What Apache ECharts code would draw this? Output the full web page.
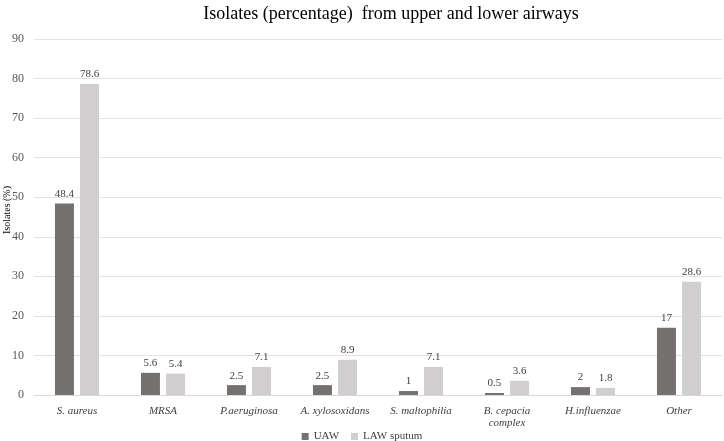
<!DOCTYPE html>
<html><head><meta charset="utf-8">
<script src="https://cdn.jsdelivr.net/npm/echarts@6/dist/echarts.min.js"></script>
<style>html,body{margin:0;padding:0;background:#fff}#c{width:724px;height:441px}</style>
</head><body><div id="c"></div>
<script>
var categories = ['S. aureus', 'MRSA', 'P.aeruginosa', 'A. xylosoxidans', 'S. maltophilia', 'B. cepacia\ncomplex', 'H.influenzae', 'Other'];
var uaw = [48.4, 5.6, 2.5, 2.5, 1, 0.5, 2, 17];
var lawSputum = [78.6, 5.4, 7.1, 8.9, 7.1, 3.6, 1.8, 28.6];
var seriesNames = ['UAW', 'LAW sputum'];
var yAxisTitle = 'Isolates (%)';
var chart = echarts.init(document.getElementById('c'));
var serif = '"Liberation Serif", "Times New Roman", serif';
chart.setOption({
  animation: false,
  title: { text: 'Isolates (percentage)  from upper and lower airways', left: 386, textAlign: 'center', top: 0,
    textStyle: { fontFamily: serif, fontSize: 18, fontWeight: 'normal', color: '#000' } },
  legend: { top: 426, left: 'center', itemWidth: 7, itemHeight: 7, itemGap: 12, icon: 'rect',
    textStyle: { fontFamily: serif, fontSize: 11, color: '#404040' }, data: seriesNames },
  graphic: [{ type: 'text', x: 2, y: 210, rotation: Math.PI / 2,
    style: { text: yAxisTitle, font: '10px ' + serif, fill: '#000', align: 'center', verticalAlign: 'top' } }],
  grid: { left: 34, right: 2, top: 39, bottom: 46, containLabel: false, outerBoundsMode: 'none' },
  xAxis: { type: 'category', data: categories,
    axisLine: { lineStyle: { color: '#d9d9d9' } }, axisTick: { show: false },
    axisLabel: { fontFamily: serif, fontStyle: 'italic', fontSize: 11, color: '#404040', margin: 10, interval: 0, lineHeight: 12 } },
  yAxis: { type: 'value', min: 0, max: 90, interval: 10,
    axisLine: { show: false }, axisTick: { show: false },
    splitLine: { lineStyle: { color: '#e3e3e3' } },
    axisLabel: { fontFamily: serif, fontSize: 12, color: '#595959', margin: 10 } },
  series: [
    { name: seriesNames[0], type: 'bar', data: uaw, barWidth: 19, barGap: '32%',
      itemStyle: { color: '#767171' },
      label: { show: true, position: 'top', distance: 4, fontFamily: serif, fontSize: 11, color: '#404040' } },
    { name: seriesNames[1], type: 'bar', data: lawSputum, barWidth: 19,
      itemStyle: { color: '#d0cece' },
      label: { show: true, position: 'top', distance: 4, fontFamily: serif, fontSize: 11, color: '#404040' } }
  ]
});
</script></body></html>
